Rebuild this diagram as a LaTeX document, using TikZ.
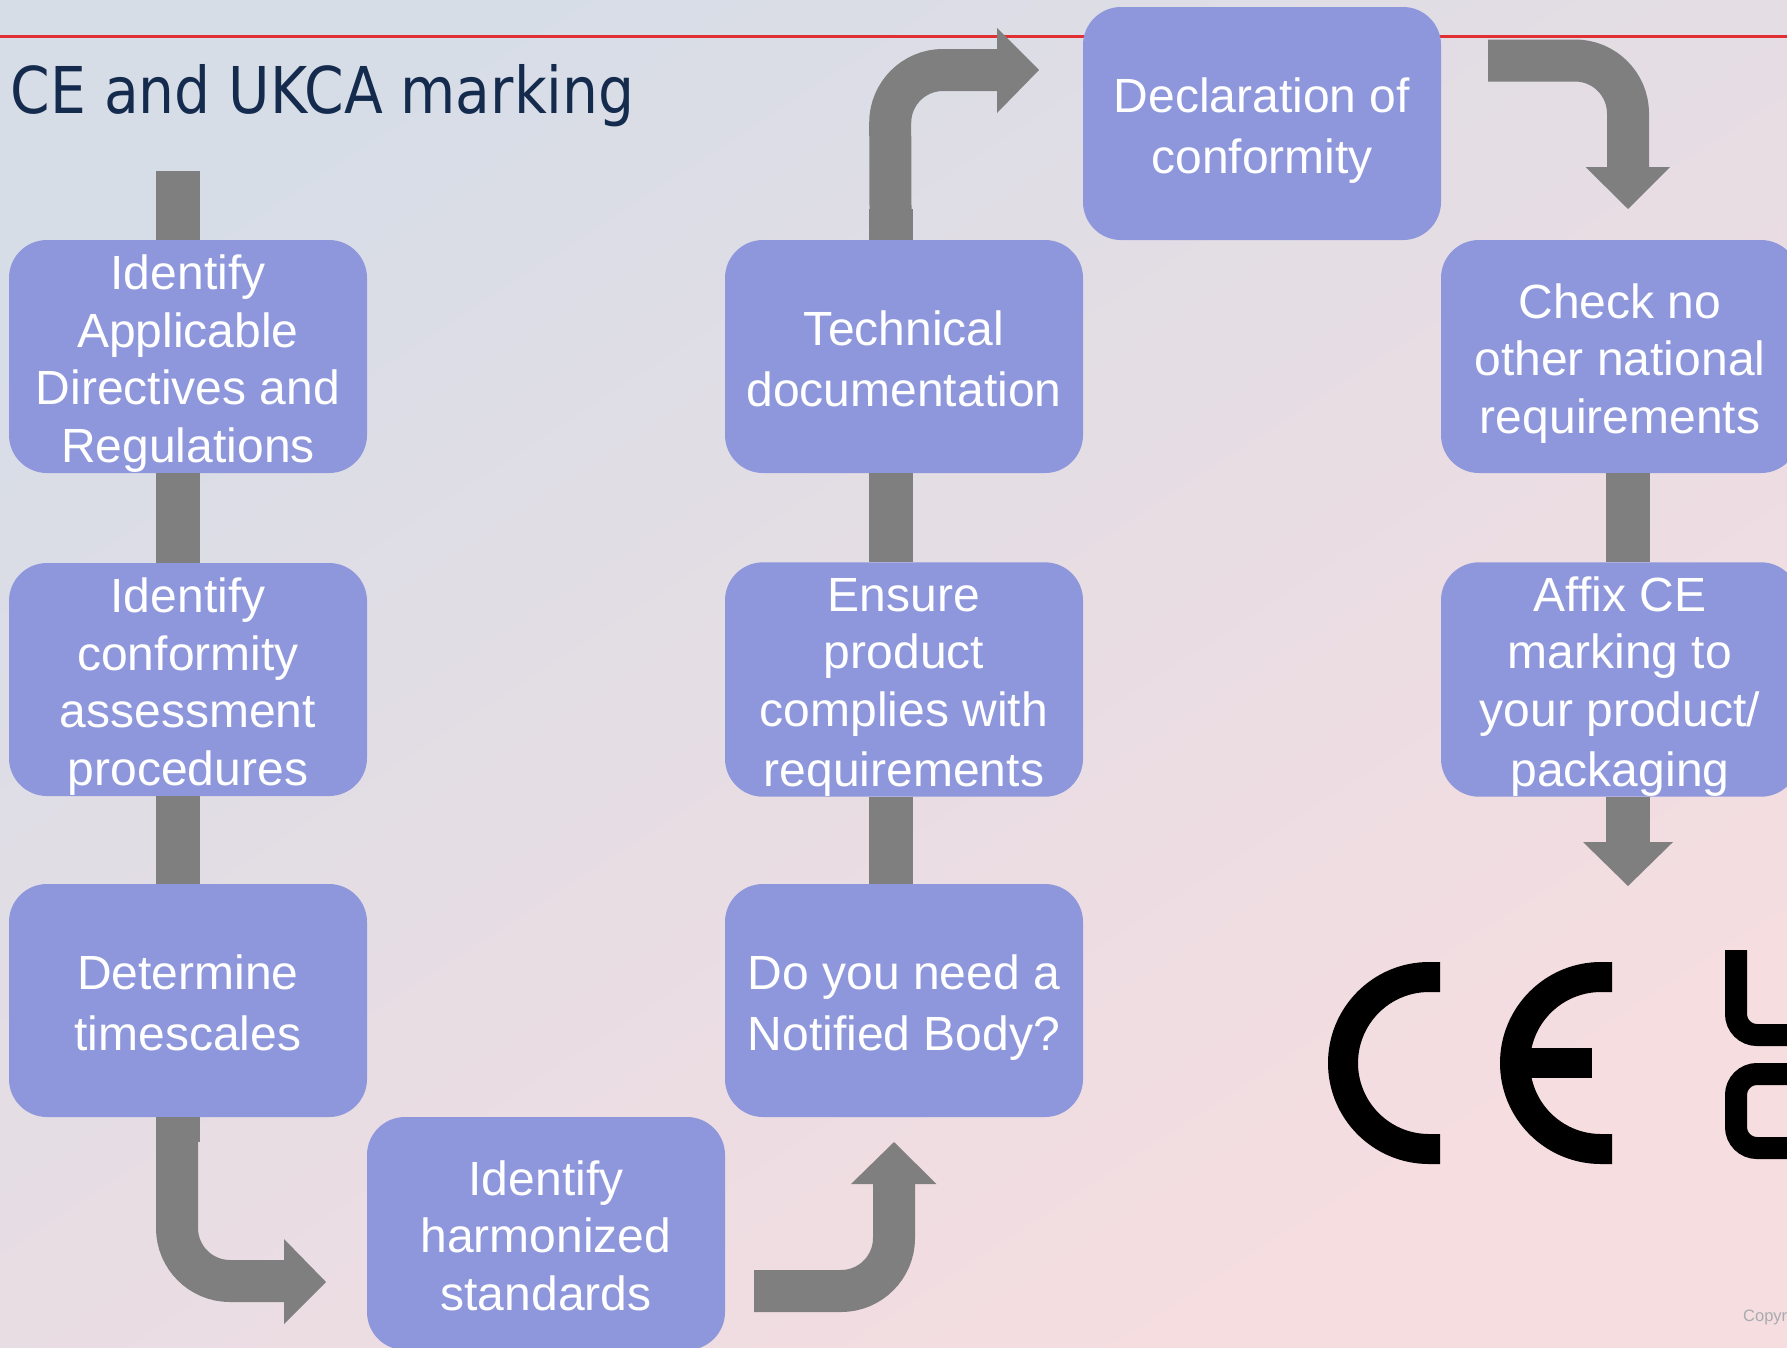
\documentclass[tikz,border=0pt]{standalone}
\usepackage{fontspec}
\setmainfont{Liberation Sans}
\newfontfamily\titlefont[FakeStretch=0.879]{DejaVu Sans}
\definecolor{bgA}{RGB}{215,221,231}
\definecolor{bgB}{RGB}{246,221,224}
\definecolor{boxfill}{RGB}{142,151,219}
\definecolor{arrowgray}{RGB}{127,127,127}
\definecolor{redline}{RGB}{224,48,52}
\definecolor{titleblue}{RGB}{20,43,77}
\definecolor{copygray}{RGB}{168,171,176}
\newcommand{\ls}{\lineskiplimit=-100pt\relax\rule[-10.2pt]{0pt}{59.2pt}}
\tikzset{
  stepbox/.style={fill=boxfill,draw=none,rounded corners=38pt,inner sep=0pt,
    minimum width=358pt,minimum height=233pt,text width=358pt,align=flush center,
    text=white,font=\fontsize{48}{57.6}\selectfont},
  vbar/.style={draw=arrowgray,line width=44pt},
  shaft/.style={draw=arrowgray,line width=42pt,rounded corners=53pt},
  headfill/.style={fill=arrowgray,draw=none},
  markline/.style={draw=black,line width=30pt},
  ukline/.style={draw=black,line width=22pt,rounded corners=21pt}
}
\begin{document}
\begin{tikzpicture}[x=1pt,y=-1pt]
\useasboundingbox (0,0) rectangle (1787,1347);
\clip (0,0) rectangle (1787,1347);
\shade[top color=bgA,bottom color=bgB,shading angle=33] (0,0) rectangle (1787,1347);
\draw[redline,line width=3pt] (0,36.3) -- (1787,36.3);
\node[anchor=base west,text=titleblue,inner sep=0pt,font=\titlefont\fontsize{64.5}{70}\selectfont] (title) at (10.5,113) {CE and UKCA marking};

% boxes
\node[stepbox] (a1) at (188,356.5) {\ls Identify\\Applicable\\Directives and\\Regulations\ls};
\node[stepbox] (a2) at (188,679.5) {\ls Identify\\conformity\\assessment\\procedures\ls};
\node[stepbox] (a3) at (188,1000.5) {\ls Determine\\timescales\ls};
\node[stepbox] (h) at (546,1233.5) {\ls Identify\\harmonized\\standards\ls};
\node[stepbox] (c3) at (904,1000.5) {\ls Do you need a\\Notified Body?\ls};
\node[stepbox] (c2) at (904,679.5) {\ls Ensure\\product\\complies with\\requirements\ls};
\node[stepbox] (c1) at (904,356.5) {\ls Technical\\documentation\ls};
\node[stepbox] (d) at (1262,123.5) {\ls Declaration of\\conformity\ls};
\node[stepbox] (e1) at (1620,356.5) {\ls Check no\\other national\\requirements\ls};
\node[stepbox] (e2) at (1620,679.5) {\ls Affix CE\\marking to\\your product/\\packaging\ls};

% free ends
\coordinate (startbar) at (178,171);
\coordinate (bendA) at (177,1142);
\coordinate (bendAend) at (284,1281);
\coordinate (tailB) at (754,1291);
\coordinate (bendBend) at (894,1184);
\coordinate (stubC) at (890.5,209);
\coordinate (bendCend) at (997,70);
\coordinate (tailD) at (1488,60.5);
\coordinate (bendDend) at (1628,167);
\coordinate (endE) at (1628,842);

% straight connectors
\draw[vbar] (startbar) -- ([xshift=-10pt]a1.north);
\draw[vbar] ([xshift=-10pt]a1.south) -- ([xshift=-10pt]a2.north);
\draw[vbar] ([xshift=-10pt]a2.south) -- ([xshift=-10pt]a3.north);
\draw[vbar] ([xshift=-10pt]a3.south) -- (startbar |- bendA);
\draw[vbar] ([xshift=-13.5pt]c3.north) -- ([xshift=-13.5pt]c2.south);
\draw[vbar] ([xshift=-13.5pt]c2.north) -- ([xshift=-13.5pt]c1.south);
\draw[vbar] ([xshift=-13.5pt]c1.north) -- (stubC);
\draw[vbar] ([xshift=8pt]e1.south) -- ([xshift=8pt]e2.north);
\draw[vbar] ([xshift=8pt]e2.south) -- (endE);

% bent connectors
\draw[shaft] (bendA) -- (177,1281) -- (bendAend);
\fill[headfill] (284,1239) -- (326,1282) -- (284,1324) -- cycle;
\draw[shaft] (tailB) -- (894,1291) -- (bendBend);
\fill[headfill] (851,1184) -- (894,1142) -- (936.5,1184) -- cycle;
\draw[shaft] (stubC) -- (890,70) -- (bendCend);
\fill[headfill] (997,28) -- (1039,70) -- (997,113) -- cycle;
\draw[shaft] (tailD) -- (1628,60.5) -- (bendDend);
\fill[headfill] (1585.5,167) -- (1628,209) -- (1670,167) -- cycle;
\fill[headfill] (1583,842) -- (1628,886) -- (1673,842) -- cycle;

% CE mark
\draw[markline] (1440,977) -- (1429,977) arc[start angle=90,end angle=270,radius=86pt] -- (1440,1149);
\draw[markline] (1612,977) -- (1601,977) arc[start angle=90,end angle=270,radius=86pt] -- (1612,1149);
\fill[black] (1525,1048) rectangle (1592,1078);

% UK mark, cut off by the page edge
\draw[ukline] (1736,950) -- (1736,1035) -- (1810,1035);
\draw[ukline] (1810,1074) -- (1736,1074) -- (1736,1148) -- (1810,1148);

\node[anchor=base west,inner sep=0pt,text=copygray,font=\fontsize{16.5}{18}\selectfont] (copy) at (1743,1321) {Copyright};
\end{tikzpicture}
\end{document}
